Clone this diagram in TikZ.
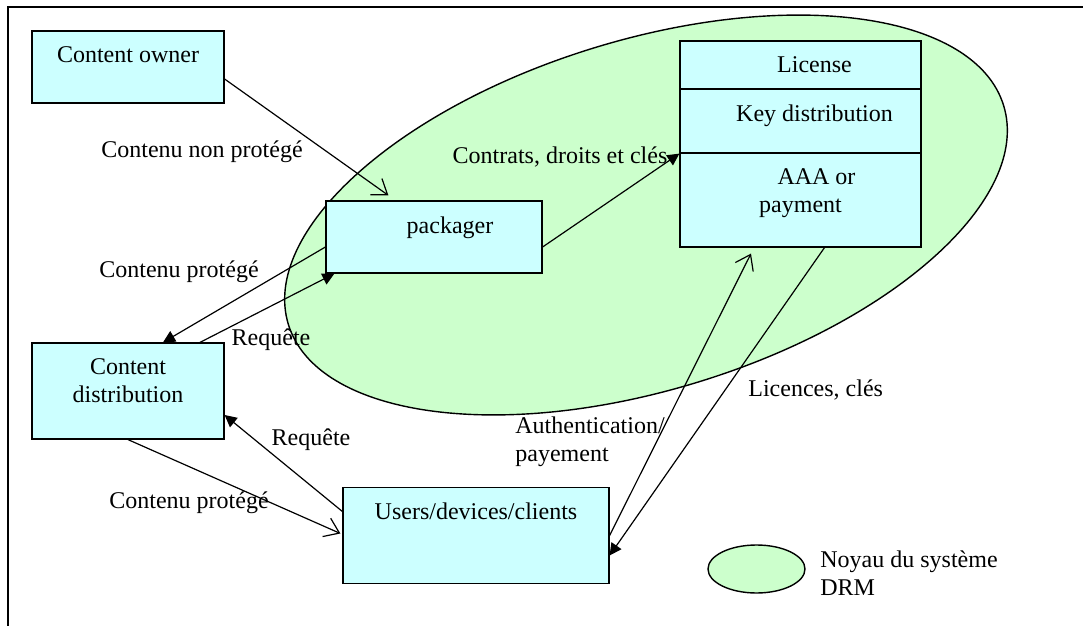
\documentclass[tikz,border=0pt]{standalone}
\usepackage{fontspec}
\setmainfont{Liberation Serif}
\usetikzlibrary{arrows.meta, calc, shapes.geometric}
\definecolor{boxfill}{HTML}{CCFFFF}
\definecolor{corefill}{HTML}{CCFFCC}

\begin{document}
\begin{tikzpicture}[
    x=0.5pt, y=-0.5pt,
    every node/.style={font=\fontsize{12}{14}\selectfont},
    box/.style={draw, fill=boxfill, line width=0.6pt, inner sep=0pt},
    boxtext/.style={anchor=north, align=center, yshift=-4.5pt},
    core/.style={ellipse, draw, fill=corefill, line width=0.7pt, inner sep=0pt},
    arw/.style={-{Triangle[length=6pt, width=6pt]}, line width=0.6pt},
    openarw/.style={-{Straight Barb[length=7pt, width=10pt]}, line width=0.6pt},
    lbl/.style={inner sep=0pt},
]

% === Frame ===
\useasboundingbox (0,0) rectangle (1083,626);
\clip (0,0) rectangle (1083,626);
\draw[line width=0.7pt] (8,7) rectangle (1100,640);

% === DRM core ===
\node[core, minimum width=374pt, minimum height=175pt, rotate=17] (core) at (646,215) {};

% === Boxes ===
\node[box, minimum width=96pt, minimum height=36pt,
      label={[boxtext]north:Content owner}] (owner) at (128,67) {};
\node[box, minimum width=108pt, minimum height=36pt,
      label={[boxtext, xshift=8pt]north:packager}] (packager) at (434,237) {};
\node[box, minimum width=120.5pt, minimum height=24pt,
      label={[boxtext, xshift=7pt]north:License}] (lic) at (800.5,65) {};
\node[box, minimum width=120.5pt, minimum height=32pt,
      label={[boxtext, xshift=7pt]north:Key distribution}] (key) at (800.5,121) {};
\node[box, minimum width=120.5pt, minimum height=47pt,
      label={[boxtext]north:{\hspace*{16pt}AAA or\\payment}}] (aaa) at (800.5,200) {};
\node[box, minimum width=96pt, minimum height=48pt,
      label={[boxtext]north:{Content\\distribution}}] (dist) at (128,391) {};
\node[box, minimum width=133pt, minimum height=48pt,
      label={[boxtext]north:Users/devices/clients}] (users) at (476,535.5) {};

% === Connectors ===
\draw[openarw] ($(owner.east)+(0,12)$) -- ($(packager.north west)+(63,-5)$);
\draw[arw] ($(packager.east)+(0,10)$) -- (key.south west);
\draw[arw] ($(packager.west)+(0,10)$) -- ($(dist.north)+(35,0)$);
\draw[arw] ($(dist.north)+(72,0)$) -- ($(packager.south west)+(9,0)$);
\draw[openarw] (dist.south) -- ($(users.west)+(-2,-2)$);
\draw[arw] ($(users.west)+(0,-24)$) -- ($(dist.east)+(0,24)$);
\draw[openarw] (users.east) -- ($(aaa.south)+(-49.5,6)$);
\draw[arw] ($(aaa.south)+(24,0)$) -- ($(users.east)+(0,20)$);

% === Labels ===
\node[lbl] (nonprot) at (202,152) {Contenu non protégé};
\node[lbl] (protup) at (179,272) {Contenu protégé};
\node[lbl] (contrats) at (560,157) {Contrats, droits et clés};
\node[lbl] (requp) at (271,340) {Requête};
\node[lbl] (reqlow) at (311,440) {Requête};
\node[lbl] (protlow) at (189,503) {Contenu protégé};
\node[lbl, anchor=west] (licences) at (748,390) {Licences, clés};
\node[lbl, anchor=west, align=left] (authlbl) at (515,442) {Authentication/\\payement};

% === Legend ===
\node[core, minimum width=48.5pt, minimum height=24pt] (legend) at (756.5,569) {};
\node[lbl, anchor=west, align=left] (legendtext) at (820,573) {Noyau du système\\DRM};

\end{tikzpicture}
\end{document}
